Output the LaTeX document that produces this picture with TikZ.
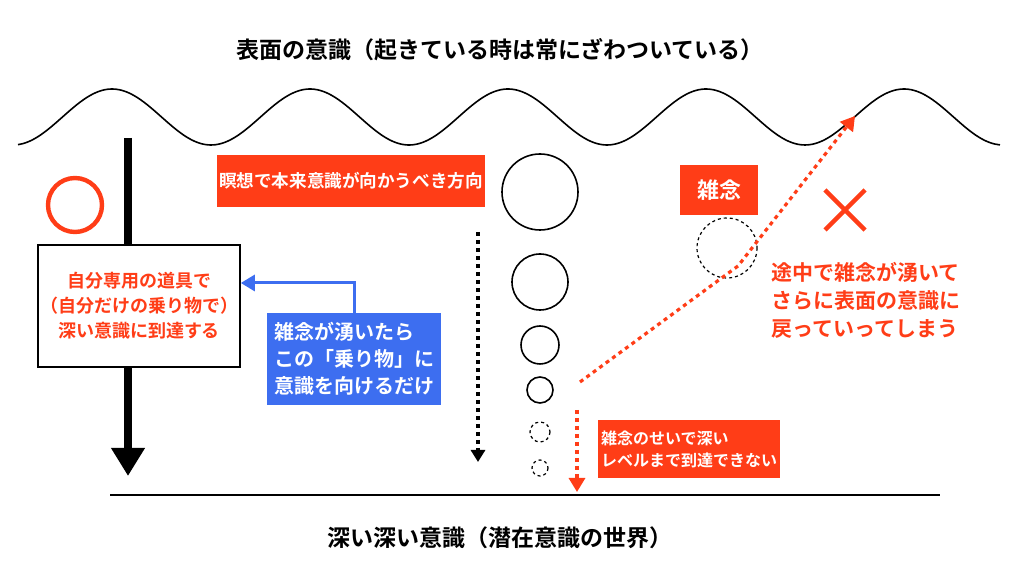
\documentclass[tikz,border=0pt]{standalone}
\usepackage{fontspec}
\setmainfont{Noto Sans CJK JP}[BoldFont={Noto Sans CJK JP Bold}]
\usetikzlibrary{arrows.meta}
\definecolor{ored}{HTML}{FF3D17}
\definecolor{bblue}{HTML}{3D6EF0}
\tikzset{
 lbl/.style={font=\bfseries\fontsize{11.5}{14}\selectfont,align=center,inner sep=0pt},
 obox/.style={fill=ored,text=white,font=\bfseries\fontsize{9}{12}\selectfont,align=left,inner sep=0pt},
 bub/.style={draw=black,line width=0.8pt},
 dbub/.style={draw=black,dash pattern=on 1.5pt off 1.5pt,line width=0.6pt},
}
\begin{document}
\begin{tikzpicture}[x=0.5pt,y=-0.5pt]
\useasboundingbox (0,0) rectangle (1024,576);
\node[lbl] (top) at (500,50) {表面の意識（起きている時は常にざわついている）};
\node[lbl] (bot) at (500,538) {深い深い意識（潜在意識の世界）};
\draw[line width=0.8pt,domain=18:1000,samples=200,smooth] plot (\x,{117-28*cos((\x-112)/198*360)});
\draw[line width=0.8pt] (110,495) -- (940,495);
% black arrow
\coordinate (ka) at (128,138); \coordinate (kb) at (128,476);
\draw[line width=4pt,-{Triangle[length=14pt,width=16pt]}] (ka) -- (kb);
\draw[ored,line width=2.2pt] (75,205) circle (27);
\node[draw=black,line width=0.8pt,fill=white,inner sep=0pt,minimum width=101pt,minimum height=61pt,text=ored,font=\bfseries\fontsize{9}{12.5}\selectfont,align=center] (vb) at (139,306) {自分専用の道具で\\（自分だけの乗り物で）\\深い意識に到達する};
\node[fill=bblue,text=white,font=\bfseries\fontsize{10}{13.5}\selectfont,align=left,minimum width=86pt,minimum height=46pt] (bl) at (354,359) {雑念が湧いたら\\この「乗り物」に\\意識を向けるだけ};
\draw[bblue,line width=1.5pt,-{Triangle[length=7pt,width=8pt]}] (bl.north) |- (vb.east|-0,283);
\node[obox,minimum width=134pt,minimum height=26pt,align=center,font=\bfseries\fontsize{8.8}{12}\selectfont] (dir) at (351,181) {瞑想で本来意識が向かうべき方向};
\coordinate (da) at (478,232); \coordinate (db) at (478,462);
\draw[line width=1.6pt,dash pattern=on 2pt off 2pt,-{Triangle[length=6pt,width=7pt]}] (da) -- (db);
\draw[bub] (540,192) circle (38);
\draw[bub] (540,282) circle (28);
\draw[bub] (540,345) circle (19);
\draw[bub] (540,390) circle (13);
\draw[dbub] (540,432) circle (10);
\draw[dbub] (540,468) circle (8);
\node[obox,minimum width=39pt,minimum height=25pt,align=center,font=\bfseries\fontsize{11}{13}\selectfont] (zn) at (719,190) {雑念};
\draw[dbub] (727,248) circle (30);
\draw[ored,line width=2.2pt] (825,190) -- (865,230) (865,190) -- (825,230);
\node[text=ored,font=\bfseries\fontsize{10.5}{14}\selectfont,align=left,inner sep=0pt] (rt) at (866,300) {途中で雑念が湧いて\\さらに表面の意識に\\戻っていってしまう};
\coordinate (ra) at (580,382); \coordinate (rm) at (738,266); \coordinate (rb) at (855,116);
\draw[ored,line width=1.6pt,dash pattern=on 2pt off 2pt,-{Triangle[length=7pt,width=8pt]}] (ra) -- (rm) -- (rb);
\coordinate (va) at (577,410); \coordinate (vb2) at (577,492);
\draw[ored,line width=1.6pt,dash pattern=on 2pt off 2pt,-{Triangle[length=7pt,width=8pt]}] (va) -- (vb2);
\node[obox,minimum width=91pt,minimum height=29pt,font=\bfseries\fontsize{8}{11}\selectfont] (nt) at (689,449) {雑念のせいで深い\\レベルまで到達できない};
\end{tikzpicture}
\end{document}
